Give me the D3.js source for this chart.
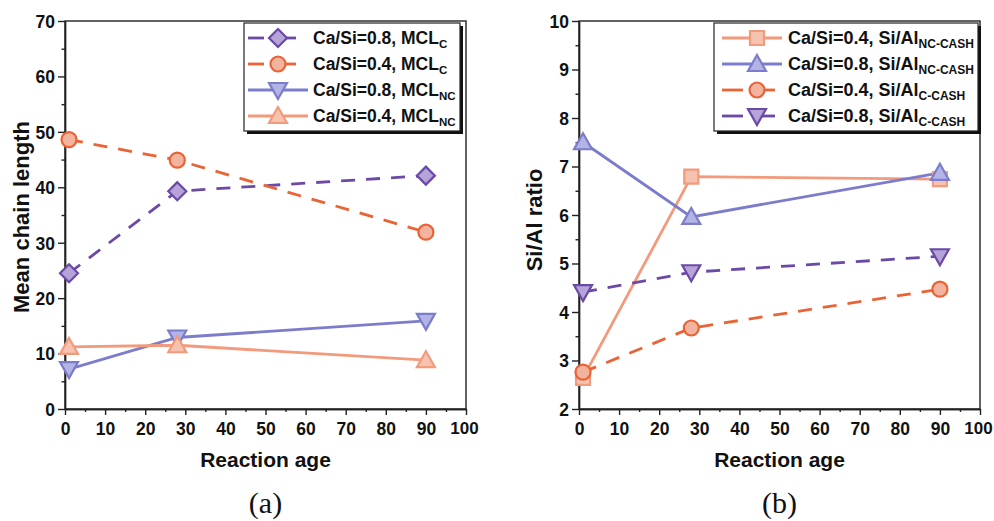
<!DOCTYPE html>
<html><head><meta charset="utf-8">
<script src="https://cdn.jsdelivr.net/npm/d3@7"></script>
<style>body{margin:0;background:#fff}svg{display:block}</style>
</head><body>
<svg id="c" width="994" height="521"></svg>
<script>
const ages = [1, 28, 90];
// Panel (a): mean chain length
const mclC08 = [24.5, 39.3, 42.1];
const mclC04 = [48.6, 44.9, 31.9];
const mclNC08 = [7.2, 12.9, 15.9];
const mclNC04 = [11.2, 11.5, 8.8];
// Panel (b): Si/Al ratio
const siAlNC04 = [2.64, 6.79, 6.74];
const siAlNC08 = [7.5, 5.96, 6.87];
const siAlC04 = [2.76, 3.67, 4.47];
const siAlC08 = [4.41, 4.82, 5.15];
const xTicks = [0,10,20,30,40,50,60,70,80,90,100];
const yTicksA = [0,10,20,30,40,50,60,70];
const yTicksB = [2,3,4,5,6,7,8,9,10];

const C = {
  purple: {s:"#6a4aa6", f:"#b6a3d8"},
  orange: {s:"#ea6335", f:"#f2b39f"},
  lav: {s:"#7c7ccc", f:"#b3b3e6"},
  salmon: {s:"#f29a7c", f:"#f6c3b0"}
};

const svg = d3.select("#c");
const font = "'Liberation Sans', Arial, Helvetica, sans-serif";

function marker(g, type, x, y, col){
  const s = 8;
  let el;
  if(type==="circle"){
    el = g.append("circle").attr("cx",x).attr("cy",y).attr("r",7.5);
  } else {
    let pts;
    if(type==="diamond") pts=[[0,-s-1],[s+1,0],[0,s+1],[-s-1,0]];
    else if(type==="square") pts=[[-7,-7],[7,-7],[7,7],[-7,7]];
    else if(type==="tri") pts=[[0,-s-1],[s+1,s-1],[-s-1,s-1]];
    else pts=[[0,s+1],[s+1,-s+1],[-s-1,-s+1]];
    el = g.append("path").attr("d","M"+pts.map(p=>[x+p[0],y+p[1]].join(",")).join("L")+"Z");
  }
  el.attr("fill",col.f).attr("stroke",col.s).attr("stroke-width",2.2).attr("stroke-linejoin","miter");
}

function txt(sel, size){
  return sel.style("font-family",font).style("font-weight","bold").style("font-size",size+"px").attr("fill","#111");
}

function panel(opt){
  const x = d3.scaleLinear().domain([0,100]).range([opt.x0, opt.x0+401]);
  const y = d3.scaleLinear().domain(opt.yd).range([409,21]);
  const g = svg.append("g");
  g.append("rect").attr("x",x(0)).attr("y",21).attr("width",x(100)-x(0)).attr("height",388)
    .attr("fill","none").attr("stroke","#222").attr("stroke-width",1.4);
  const xa = g.append("g").attr("transform",`translate(0,409)`)
    .call(d3.axisBottom(x).tickValues(xTicks).tickSize(6).tickSizeOuter(0).tickFormat(d3.format("d")));
  const xm = g.append("g").attr("transform",`translate(0,409)`)
    .call(d3.axisBottom(x).tickValues(xTicks.slice(0,-1).map(v=>v+5)).tickSize(3).tickSizeOuter(0).tickFormat(""));
  const ya = g.append("g").attr("transform",`translate(${x(0)},0)`)
    .call(d3.axisLeft(y).tickValues(opt.yt).tickSize(7).tickSizeOuter(0).tickFormat(d3.format("d")));
  const step = opt.yt[1]-opt.yt[0];
  const ym = g.append("g").attr("transform",`translate(${x(0)},0)`)
    .call(d3.axisLeft(y).tickValues(opt.yt.slice(0,-1).map(v=>v+step/2)).tickSize(3.5).tickSizeOuter(0).tickFormat(""));
  [xa,xm,ya,ym].forEach(a=>{
    a.select(".domain").attr("stroke","#222").attr("stroke-width",1.4);
    a.selectAll(".tick line").attr("stroke","#222").attr("stroke-width",1.4);
    txt(a.selectAll("text"),17.5);
  });
  xa.selectAll("text").attr("dy","0.97em");
  xa.selectAll(".tick text").filter(d=>d===100).attr("dx",-2).style("font-size","17px");
  ya.selectAll("text").attr("dy","0.36em");
  txt(g.append("text").attr("x",(x(0)+x(100))/2).attr("y",467).attr("text-anchor","middle"),21).text("Reaction age");
  txt(g.append("text").attr("transform",`translate(${opt.x0+opt.ytx},${opt.yty}) rotate(-90)`).attr("text-anchor","middle"),22).text(opt.ytitle);
  g.append("text").attr("x",(x(0)+x(100))/2).attr("y",513).attr("text-anchor","middle")
    .style("font-family","'Liberation Serif', 'Times New Roman', serif").style("font-size","30px").attr("fill","#111").text(opt.label);
  const line = d3.line().x((d,i)=>x(ages[i])).y(d=>y(d));
  opt.series.forEach(s=>{
    g.append("path").datum(s.v).attr("d",line).attr("fill","none").attr("stroke",s.c.s)
      .attr("stroke-width",2.8).attr("stroke-dasharray",s.dash?"14,11":null);
  });
  opt.series.forEach(s=>{
    s.v.forEach((v,i)=>marker(g,s.m,x(ages[i]),y(v),s.c));
  });
  const L = opt.leg;
  g.append("rect").attr("x",L.x+3).attr("y",L.y+3).attr("width",L.w).attr("height",L.h).attr("fill","#111");
  g.append("rect").attr("x",L.x).attr("y",L.y).attr("width",L.w).attr("height",L.h).attr("fill","#fff")
    .attr("stroke","#222").attr("stroke-width",1.2);
  opt.series.forEach((s,i)=>{
    const ly = L.y + 15 + i*26;
    if(s.dash){
      g.append("line").attr("x1",L.lx0).attr("x2",L.mx-14).attr("y1",ly).attr("y2",ly).attr("stroke",s.c.s).attr("stroke-width",2.8);
      g.append("line").attr("x1",L.mx+4).attr("x2",L.mx+18).attr("y1",ly).attr("y2",ly).attr("stroke",s.c.s).attr("stroke-width",2.8);
    } else {
      g.append("line").attr("x1",L.lx0).attr("x2",L.lx1).attr("y1",ly).attr("y2",ly).attr("stroke",s.c.s).attr("stroke-width",2.8);
    }
    marker(g,s.m,L.mx,ly,s.c);
    const t = txt(g.append("text").attr("x",L.tx).attr("y",ly+6),L.fs);
    t.append("tspan").text(s.name);
    t.append("tspan").attr("dy",4).style("font-size",(L.fs-6)+"px").text(s.sub);
  });
}

panel({x0:65, yd:[0,70], yt:yTicksA, ytitle:"Mean chain length", label:"(a)", ytx:-36, yty:217,
  leg:{x:244,y:23,w:216,h:108,lx0:248,lx1:308,mx:278,tx:313,fs:17.5},
  series:[
    {name:"Ca/Si=0.8, MCL", sub:"C", v:mclC08, c:C.purple, m:"diamond", dash:true},
    {name:"Ca/Si=0.4, MCL", sub:"C", v:mclC04, c:C.orange, m:"circle", dash:true},
    {name:"Ca/Si=0.8, MCL", sub:"NC", v:mclNC08, c:C.lav, m:"tridown", dash:false},
    {name:"Ca/Si=0.4, MCL", sub:"NC", v:mclNC04, c:C.salmon, m:"tri", dash:false}
  ]});
panel({x0:579, yd:[2,10], yt:yTicksB, ytitle:"Si/Al ratio", label:"(b)", ytx:-37, yty:220,
  leg:{x:714,y:23,w:264,h:108,lx0:722,lx1:782,mx:757,tx:788,fs:18},
  series:[
    {name:"Ca/Si=0.4, Si/Al", sub:"NC-CASH", v:siAlNC04, c:C.salmon, m:"square", dash:false},
    {name:"Ca/Si=0.8, Si/Al", sub:"NC-CASH", v:siAlNC08, c:C.lav, m:"tri", dash:false},
    {name:"Ca/Si=0.4, Si/Al", sub:"C-CASH", v:siAlC04, c:C.orange, m:"circle", dash:true},
    {name:"Ca/Si=0.8, Si/Al", sub:"C-CASH", v:siAlC08, c:C.purple, m:"tridown", dash:true}
  ]});
</script>
</body></html>
